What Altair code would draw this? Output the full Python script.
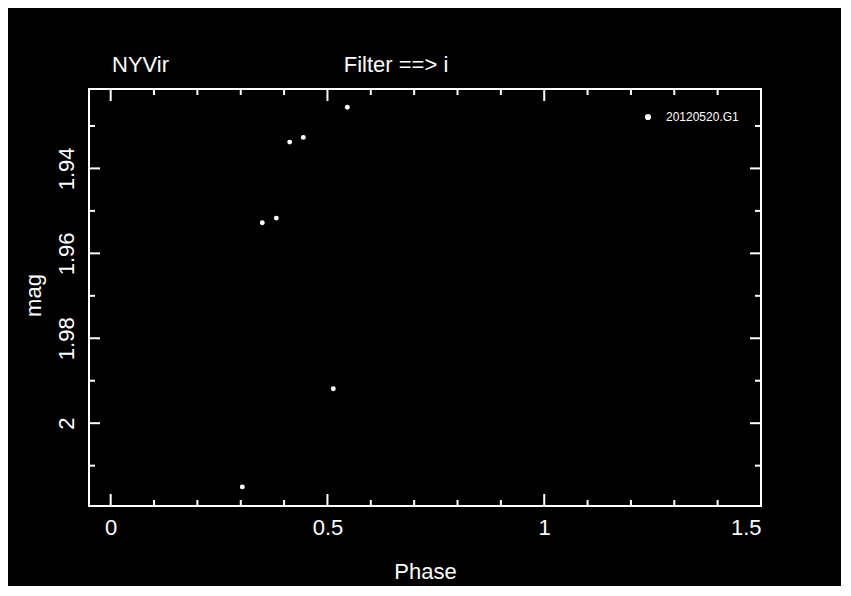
import altair as alt
import pandas as pd

# ---- data ----
phase = [0.3036, 0.3497, 0.3820, 0.4129, 0.4443, 0.5135, 0.5458]
mag = [2.0150, 1.9528, 1.9517, 1.9338, 1.9327, 1.9919, 1.9256]
night = ["20120520.G1"] * len(phase)

star_name = "NYVir"
filter_label = "Filter ==> i"

x_major = [0, 0.5, 1, 1.5]
x_minor = [0.1, 0.2, 0.3, 0.4, 0.6, 0.7, 0.8, 0.9, 1.1, 1.2, 1.3, 1.4]
y_major = [1.94, 1.96, 1.98, 2.0]
y_minor = [1.93, 1.95, 1.97, 1.99, 2.01]

W, H = 672, 417
FONT = "Liberation Sans"

pts = pd.DataFrame({"phase": phase, "mag": mag, "night": night})
xs = alt.Scale(domain=[-0.05, 1.5], nice=False, zero=False)
ys = alt.Scale(domain=[1.9213, 2.0195], nice=False, zero=False, reverse=True)

points = alt.Chart(pts).mark_circle(size=24, opacity=1).encode(
    x=alt.X("phase:Q", scale=xs, title="Phase",
            axis=alt.Axis(values=x_major, format="~g", labelBaseline="alphabetic",
                          labelPadding=28, titleBaseline="alphabetic", titleY=72)),
    y=alt.Y("mag:Q", scale=ys, title="mag",
            axis=alt.Axis(values=y_major, format="~g", labelAngle=270, labelAlign="center",
                          labelBaseline="alphabetic", labelPadding=16,
                          titleAngle=270, titleBaseline="alphabetic", titleAlign="center",
                          titleX=-49, titleY=206)),
    color=alt.Color("night:N", scale=alt.Scale(range=["white"]),
                    legend=alt.Legend(orient="none", legendX=553, legendY=22, title=None,
                                      labelColor="white", labelFontSize=12, labelFont=FONT,
                                      symbolType="circle", symbolSize=38, symbolFillColor="white",
                                      symbolStrokeColor="white", symbolStrokeWidth=0,
                                      labelOffset=12, padding=0)),
)

def xrules(vals, y0, y1):
    return alt.Chart(pd.DataFrame({"v": vals})).mark_rule(color="white", strokeWidth=2).encode(
        x=alt.X("v:Q", scale=xs), y=alt.value(y0), y2=alt.value(y1))

def yrules(vals, x0, x1):
    return alt.Chart(pd.DataFrame({"v": vals})).mark_rule(color="white", strokeWidth=2).encode(
        y=alt.Y("v:Q", scale=ys), x=alt.value(x0), x2=alt.value(x1))

ticks = [
    xrules(x_major, H, H - 12), xrules(x_minor, H, H - 6),
    xrules(x_major, 0, 12), xrules(x_minor, 0, 6),
    yrules(y_major, 0, 11), yrules(y_minor, 0, 6),
    yrules(y_major, W, W - 11), yrules(y_minor, W, W - 6),
]

t_left = alt.Chart(pd.DataFrame({"t": [star_name]})).mark_text(
    color="white", font=FONT, fontSize=22, align="left", baseline="alphabetic"
).encode(text="t:N", x=alt.value(23), y=alt.value(-17))

t_mid = alt.Chart(pd.DataFrame({"t": [filter_label]})).mark_text(
    color="white", font=FONT, fontSize=22, align="center", baseline="alphabetic"
).encode(text="t:N", x=alt.value(307), y=alt.value(-17))

chart = alt.layer(points, *ticks, t_left, t_mid).properties(
    width=W, height=H,
    autosize="none",
    padding={"left": 81, "top": 81, "right": 80, "bottom": 80},
    background="black",
).configure_view(
    stroke="white", strokeWidth=2, fill="black"
).configure_axis(
    grid=False, ticks=False, tickSize=0, domain=False,
    labelColor="white", titleColor="white",
    labelFont=FONT, titleFont=FONT, labelFontSize=22, titleFontSize=22,
    labelFontWeight="normal", titleFontWeight="normal",
).configure_mark(color="white")

chart.save("out.html", embed_options={"renderer": "svg", "actions": False})
